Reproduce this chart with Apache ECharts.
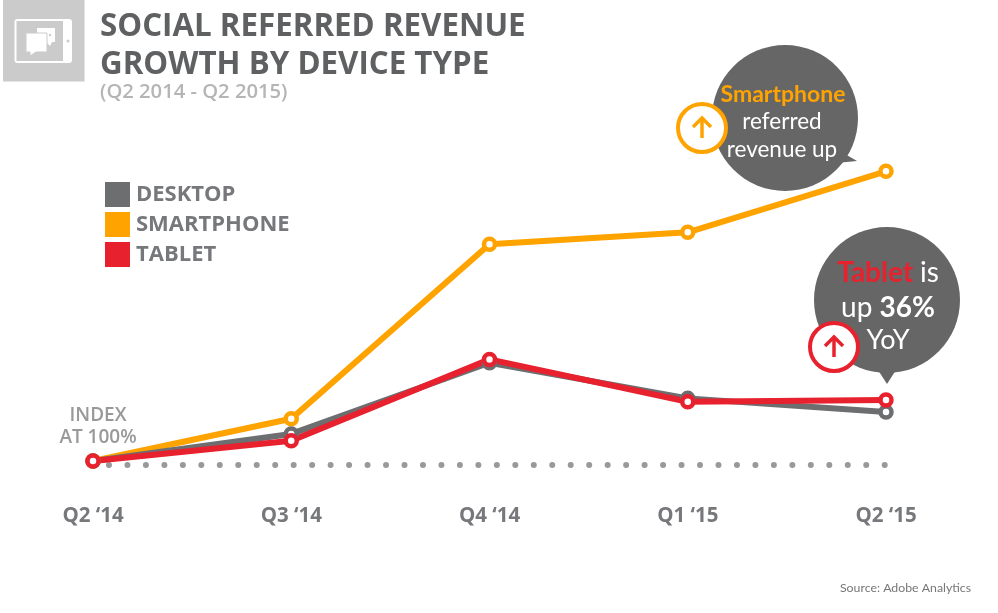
<!DOCTYPE html>
<html>
<head>
<meta charset="utf-8">
<style>
html,body{margin:0;padding:0;background:#fff;}
#main{width:998px;height:613px;}
</style>
<script src="https://cdn.jsdelivr.net/npm/echarts@6/dist/echarts.min.js"></script>
</head>
<body>
<div id="main"></div>
<script>
var quarters = ['Q2 \u201814','Q3 \u201814','Q4 \u201814','Q1 \u201815','Q2 \u201815'];
var desktop = [100,116,158,137,129];
var smartphone = [100,125,228,235,271];
var tablet = [100,112,160,135,136];
var baseline = [97.6,97.6,97.6,97.6,97.6];

var font = '"Open Sans",sans-serif';
var thin = 'Lato,sans-serif';
var gray = '#6d6e70', orange = '#ffa300', red = '#e8212e', bubble = '#666666', tile = '#cbcbcc';

function lineSeries(name,data,color){
	return {
		name:name,
		type:'line',
		data:data,
		symbol:'circle',
		symbolSize:11,
		showSymbol:true,
		lineStyle:{color:color,width:6},
		itemStyle:{color:'#fff',borderColor:color,borderWidth:4.5},
		emphasis:{disabled:true}
	};
}

function legendItem(name,color){
	return {name:name,icon:'rect',itemStyle:{color:color,borderWidth:0},lineStyle:{width:0}};
}

//bubble with tail
function callout(cx,cy,tail){
	return [
		{type:'circle',shape:{cx:cx,cy:cy,r:73},style:{fill:bubble}},
		{type:'polygon',shape:{points:tail},style:{fill:bubble}}
	];
}

//white disc with an arrow
function arrowBadge(cx,cy,color){
	return [
		{type:'circle',z:5,shape:{cx:cx,cy:cy,r:24},style:{fill:'#fff',stroke:color,lineWidth:4}},
		{type:'line',z:6,shape:{x1:cx,y1:cy-10,x2:cx,y2:cy+10},style:{stroke:color,lineWidth:3.5}},
		{type:'polyline',z:6,shape:{points:[[cx-9,cy-1],[cx,cy-10],[cx+9,cy-1]]},style:{stroke:color,lineWidth:3.5,fill:'none'}}
	];
}

function label(x,y,text,fontStr,color,align){
	return {type:'text',z:4,x:x,y:y,style:{text:text,font:fontStr,fill:color,align:align||'center',verticalAlign:'middle'}};
}

var icon = [
	{type:'rect',shape:{x:3,y:0,width:81.5,height:81.5},style:{fill:tile}},
	{type:'rect',shape:{x:14.5,y:19,width:57.5,height:44,r:3},style:{fill:'#fff'}},
	{type:'rect',shape:{x:16.5,y:21,width:46.5,height:40},style:{fill:tile}},
	{type:'circle',shape:{cx:68,cy:41,r:1.5},style:{fill:tile}},
	{type:'polygon',shape:{points:[[37,28],[55,28],[55,42],[52,42],[50,46],[46,42],[37,42]]},style:{fill:'#fff'}},
	{type:'circle',shape:{cx:41,cy:35,r:1.2},style:{fill:tile}},
	{type:'circle',shape:{cx:45.5,cy:35,r:1.2},style:{fill:tile}},
	{type:'circle',shape:{cx:50,cy:35,r:1.2},style:{fill:tile}},
	{type:'polygon',shape:{points:[[26,33],[47,33],[47,52],[36,52],[30,56],[30,52],[26,52]]},style:{fill:'#fff',stroke:tile,lineWidth:1}}
];

var texts = [
	label(783,95,'Smartphone','bold 23px '+thin,orange),
	label(782,122,'referred','22.5px '+thin,'#fff'),
	label(782,150,'revenue up','22.5px '+thin,'#fff'),
	{type:'text',z:4,x:888,y:273,style:{
		text:'{a|Tablet }{b|is}',align:'center',verticalAlign:'middle',
		rich:{a:{font:'bold 28px '+thin,fill:red},b:{font:'28px '+thin,fill:'#fff'}}
	}},
	{type:'text',z:4,x:888,y:308,style:{
		text:'{b|up }{c|36%}',align:'center',verticalAlign:'middle',
		rich:{b:{font:'28px '+thin,fill:'#fff'},c:{font:'bold 28px '+thin,fill:'#fff'}}
	}},
	label(888,340,'YoY','27px '+thin,'#fff'),
	label(98,416,'INDEX','600 19px '+font,'#999'),
	label(98,438,'AT 100%','600 19px '+font,'#999'),
	label(971,588,'Source: Adobe Analytics','12.3px '+thin,'#777','right')
];

var option = {
	animation:false,
	title:{
		left:95,
		top:3,
		text:'SOCIAL REFERRED REVENUE\nGROWTH BY DEVICE TYPE',
		textStyle:{fontFamily:font,fontSize:31.3,fontWeight:'bold',color:'#5f6062',lineHeight:38},
		subtext:'(Q2 2014 - Q2 2015)',
		subtextStyle:{fontFamily:font,fontSize:20.2,fontWeight:600,color:'#b5b5b6'},
		itemGap:-2
	},
	legend:{
		left:100,
		top:177,
		orient:'vertical',
		itemWidth:25,
		itemHeight:25,
		itemGap:5,
		selectedMode:false,
		textStyle:{fontFamily:font,fontSize:22,fontWeight:'bold',color:'#77787b',padding:[9,0,0,1]},
		data:[legendItem('DESKTOP',gray),legendItem('SMARTPHONE',orange),legendItem('TABLET',red)]
	},
	grid:{left:93,right:112,top:122.2,bottom:135},
	xAxis:{
		type:'category',
		boundaryGap:false,
		data:quarters,
		axisLine:{show:false},
		axisTick:{show:false},
		axisLabel:{margin:28,interval:0,fontFamily:font,fontSize:20.5,fontWeight:'bold',color:'#77787b'}
	},
	yAxis:{type:'value',min:90,max:300,show:false,splitLine:{show:false}},
	series:[
		{
			name:'baseline',
			type:'line',
			data:baseline,
			symbol:'none',
			silent:true,
			lineStyle:{color:'#999',width:6,cap:'round',type:[0,18.47],dashOffset:2.5}
		},
		lineSeries('SMARTPHONE',smartphone,orange),
		lineSeries('DESKTOP',desktop,gray),
		lineSeries('TABLET',tablet,red)
	],
	graphic:{elements:[].concat(
		icon,
		callout(785,118,[[838,150],[857,161],[836,163]]),
		callout(887,300,[[878,370],[887,384],[896,370]]),
		texts,
		arrowBadge(702,128,orange),
		arrowBadge(834,347,red)
	)}
};

var chart = echarts.init(document.getElementById('main'));
chart.setOption(option);
</script>
</body>
</html>
